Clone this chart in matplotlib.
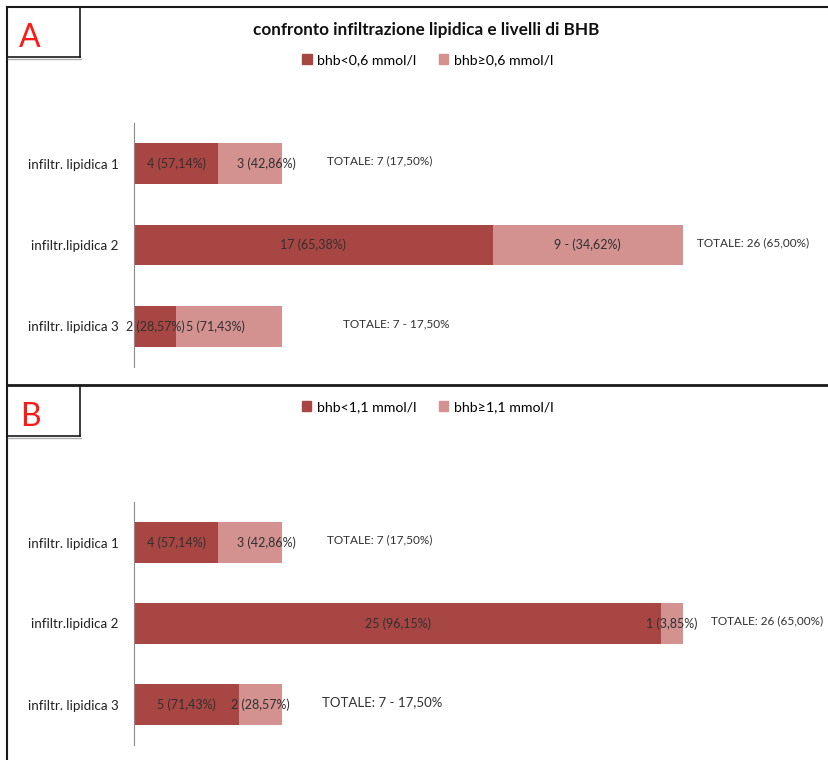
import matplotlib
matplotlib.use("Agg")
import matplotlib.pyplot as plt
from matplotlib.patches import Patch
from matplotlib.lines import Line2D

plt.rcParams['font.family'] = ['Lato', 'DejaVu Sans']

# --- data ---
categories = ["infiltr. lipidica 1", "infiltr.lipidica 2", "infiltr. lipidica 3"]

a_low = [4, 17, 2]
a_high = [3, 9, 5]
a_low_labels = ["4 (57,14%)", "17 (65,38%)", "2 (28,57%)"]
a_high_labels = ["3 (42,86%)", "9 - (34,62%)", "5 (71,43%)"]
a_totals = ["TOTALE: 7 (17,50%)", "TOTALE: 26 (65,00%)", "TOTALE: 7 - 17,50%"]
a_legend = ["bhb<0,6 mmol/l", "bhb\u22650,6 mmol/l"]

b_low = [4, 25, 5]
b_high = [3, 1, 2]
b_low_labels = ["4 (57,14%)", "25 (96,15%)", "5 (71,43%)"]
b_high_labels = ["3 (42,86%)", "1 (3,85%)", "2 (28,57%)"]
b_totals = ["TOTALE: 7 (17,50%)", "TOTALE: 26 (65,00%)", "TOTALE: 7 - 17,50%"]
b_legend = ["bhb<1,1 mmol/l", "bhb\u22651,1 mmol/l"]

TITLE = "confronto infiltrazione lipidica e livelli di BHB"

# --- label placement (data units), as in the original Excel chart ---
a_high_nudge = [0.8, 0.0, -0.65]
b_high_nudge = [0.8, 0.0, 0.0]
a_total_x = [9.15, 26.7, 9.9]
b_total_x = [9.15, 27.35, 8.9]
a_total_size = [8.5, 8.5, 8.5]
b_total_size = [8.5, 8.5, 9.5]

DARK = "#A84644"
LIGHT = "#D39190"
TXT = "#303030"
W, H = 829, 760


def fx(x):
    return x / W


def fy(y):
    return 1 - y / H


def draw_panel(ax, low, high, low_lab, high_lab, totals, nudge, tot_x, tot_size):
    y = list(range(len(categories)))
    ax.barh(y, low, height=0.5, color=DARK)
    ax.barh(y, high, left=low, height=0.5, color=LIGHT)
    for i in y:
        ax.text(low[i] / 2, i, low_lab[i], ha="center", va="center",
                fontsize=9, color=TXT)
        ax.text(low[i] + high[i] / 2 + nudge[i], i, high_lab[i],
                ha="center", va="center", fontsize=9, color=TXT)
        ax.text(tot_x[i], i - 0.03, totals[i], ha="left", va="center",
                fontsize=tot_size[i], color=TXT)
    ax.set_xlim(0, 695 / 21.1)
    ax.set_ylim(2.5, -0.5)
    ax.set_yticks(y)
    ax.set_yticklabels(categories, fontsize=9.6, color="#202020")
    ax.tick_params(axis="y", length=0, pad=11)
    ax.set_xticks([])
    for s in ["top", "right", "bottom"]:
        ax.spines[s].set_visible(False)
    ax.spines["left"].set_color("#8a8a8a")
    ax.spines["left"].set_linewidth(0.8)
    ax.patch.set_alpha(0)


fig = plt.figure(figsize=(W / 100, H / 100), dpi=100)

axA = fig.add_axes([fx(134), fy(367), fx(829 - 134), 244 / H])
draw_panel(axA, a_low, a_high, a_low_labels, a_high_labels, a_totals,
           a_high_nudge, a_total_x, a_total_size)

axB = fig.add_axes([fx(134), fy(745), fx(829 - 134), 243 / H])
draw_panel(axB, b_low, b_high, b_low_labels, b_high_labels, b_totals,
           b_high_nudge, b_total_x, b_total_size)

# title and legends
fig.text(fx(426), fy(30), TITLE, ha="center", va="center",
         fontsize=12.3, fontweight="bold", color="#101010")

for names, ypix in [(a_legend, 60), (b_legend, 407)]:
    handles = [Patch(color=DARK), Patch(color=LIGHT)]
    fig.legend(handles, names, loc="center", bbox_to_anchor=(fx(428), fy(ypix)),
               ncol=2, frameon=False, fontsize=10.2, handlelength=0.65,
               handleheight=0.65, handletextpad=0.4, columnspacing=1.6)

# panel borders
line_kw = dict(color="#1a1a1a", transform=fig.transFigure)
fig.add_artist(Line2D([fx(7), 1], [fy(7), fy(7)], lw=1.5, **line_kw))
fig.add_artist(Line2D([fx(7), fx(7)], [fy(7), 0], lw=1.5, **line_kw))
fig.add_artist(Line2D([fx(7), 1], [fy(385), fy(385)], lw=2.0, **line_kw))

# label boxes
for letter, top in [("A", 7), ("B", 386)]:
    fig.add_artist(Line2D([fx(80), fx(80)], [fy(top), fy(top + 50)], lw=1.2,
                          **line_kw))
    fig.add_artist(Line2D([fx(7), fx(80)], [fy(top + 50), fy(top + 50)], lw=1.2,
                          **line_kw))
    fig.add_artist(Line2D([fx(8), fx(81)], [fy(top + 52), fy(top + 52)], lw=1.0,
                          color="#b0b0b0", transform=fig.transFigure))
    fig.text(fx(30), fy(top + 31), letter, ha="center", va="center",
             fontsize=23, color="#ff1a1a")

fig.savefig("out.png", dpi=100)
